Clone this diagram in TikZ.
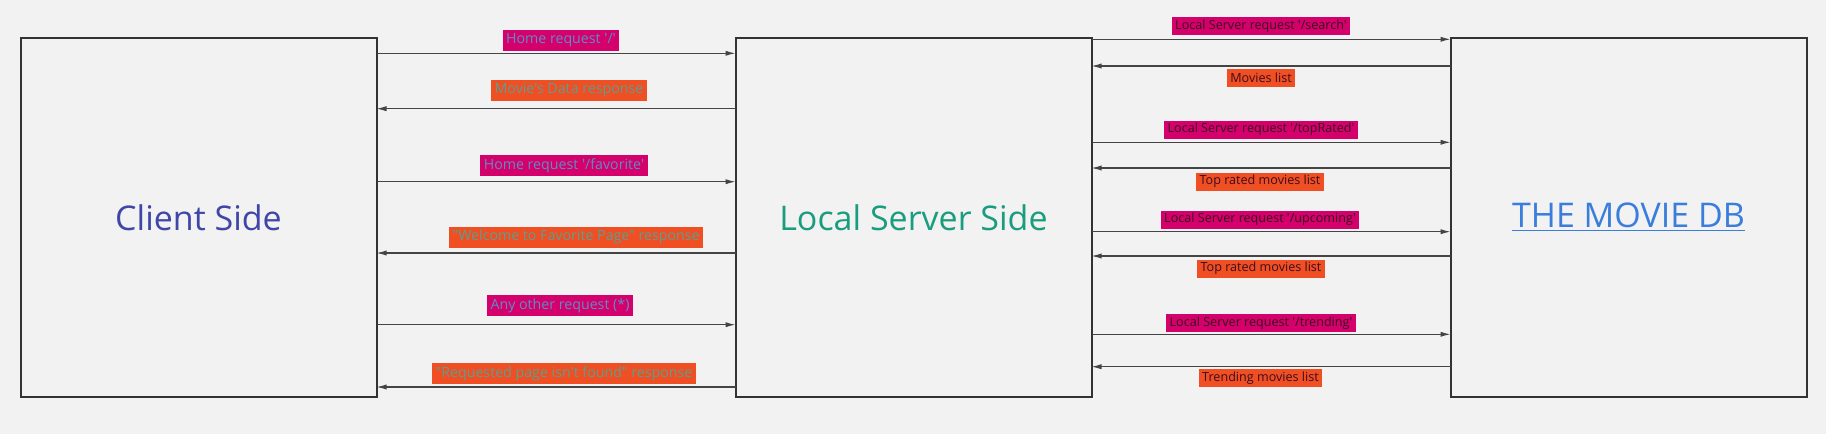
\documentclass[tikz,border=0pt]{standalone}
\usepackage{fontspec}
\newfontfamily\diagfont{Open Sans}
\usepackage{tikz}
\usetikzlibrary{arrows.meta}
\usetikzlibrary{positioning}
\definecolor{bgcol}{HTML}{F2F2F2}
\definecolor{boxcol}{HTML}{333333}
\definecolor{linecol}{HTML}{444444}
\definecolor{reqfill}{HTML}{D4006C}
\definecolor{respfill}{HTML}{F04E23}
\definecolor{reqtext}{HTML}{5E8CC8}
\definecolor{resptext}{HTML}{5E9E8E}
\definecolor{darktext}{HTML}{3A0E1E}
\definecolor{clientcol}{HTML}{4046A8}
\definecolor{servercol}{HTML}{1A9C7F}
\definecolor{dbcol}{HTML}{3B7DDD}
\tikzset{
    side/.style={draw=boxcol, line width=1pt, minimum width=178pt, minimum height=179.5pt,
        inner sep=0pt, outer sep=0pt, font=\diagfont\fontsize{17}{20}\selectfont},
    request/.style={draw=linecol, line width=0.55pt, ->},
    response/.style={draw=linecol, line width=0.55pt, <-},
    reqlabel/.style={fill=reqfill, text=reqtext, inner xsep=1.8pt, inner ysep=0pt, minimum height=10.5pt,
        font=\diagfont\fontsize{7.1}{8.5}\selectfont},
    resplabel/.style={fill=respfill, text=resptext, inner xsep=1.8pt, inner ysep=0pt, minimum height=10.5pt,
        font=\diagfont\fontsize{7.1}{8.5}\selectfont},
    apireq/.style={reqlabel, text=darktext, minimum height=9pt, font=\diagfont\fontsize{6.3}{7.5}\selectfont},
    apiresp/.style={resplabel, text=darktext, minimum height=9pt, font=\diagfont\fontsize{6.3}{7.5}\selectfont},
}

\begin{document}
\begin{tikzpicture}[x=0.5pt, y=-0.5pt, >={Latex[length=5pt,width=2.6pt]},
    font=\diagfont\fontsize{6.3}{7.5}\selectfont]
	\fill[bgcol] (0,0) rectangle (1826,434);
	\useasboundingbox (0,0) rectangle (1826,434);
	% the three sides
	\node[side, text=clientcol] (client) at (198.5,217.5) {Client Side};
	\node[side, text=servercol, right=179.5pt of client] (server) {Local Server Side};
	\node[side, text=dbcol, right=179.5pt of server] (db) {\underline{THE MOVIE DB}};
	% client <-> local server
	\draw[request] (client.east |- 0,53.3) -- (server.west |- 0,53.3);
	\draw[response] (client.east |- 0,108.7) -- (server.west |- 0,108.7);
	\draw[request] (client.east |- 0,181.7) -- (server.west |- 0,181.7);
	\draw[response] (client.east |- 0,253) -- (server.west |- 0,253);
	\draw[request] (client.east |- 0,324.7) -- (server.west |- 0,324.7);
	\draw[response] (client.east |- 0,387) -- (server.west |- 0,387);
	\node[reqlabel] (home) at (561,40) {Home request '/'};
	\node[resplabel] (data) at (569,90) {Movie's Data response};
	\node[reqlabel] (fav) at (564,165.5) {Home request '/favorite'};
	\node[resplabel] (welcome) at (576,237) {"Welcome to Favorite Page" response};
	\node[reqlabel] (other) at (560,305.5) {Any other request (*)};
	\node[resplabel] (notfound) at (564,373.5) {"Requested page isn't found" response};
	% local server <-> movie db
	\draw[request] (server.east |- 0,39.3) -- (db.west |- 0,39.3);
	\draw[response] (server.east |- 0,66) -- (db.west |- 0,66);
	\draw[request] (server.east |- 0,142.3) -- (db.west |- 0,142.3);
	\draw[response] (server.east |- 0,168) -- (db.west |- 0,168);
	\draw[request] (server.east |- 0,231.7) -- (db.west |- 0,231.7);
	\draw[response] (server.east |- 0,256) -- (db.west |- 0,256);
	\draw[request] (server.east |- 0,334.3) -- (db.west |- 0,334.3);
	\draw[response] (server.east |- 0,366.7) -- (db.west |- 0,366.7);
	\node[apireq] (search) at (1261,26) {Local Server request '/search'};
	\node[apiresp] (movies) at (1261,78) {Movies list};
	\node[apireq] (toprated) at (1261,129.5) {Local Server request '/topRated'};
	\node[apiresp] (toplist) at (1260,181.5) {Top rated movies list};
	\node[apireq] (upcoming) at (1260,219.5) {Local Server request '/upcoming'};
	\node[apiresp] (uplist) at (1261,268.5) {Top rated movies list};
	\node[apireq] (trending) at (1261,323) {Local Server request '/trending'};
	\node[apiresp] (trendlist) at (1260.5,378) {Trending movies list};
\end{tikzpicture}
\end{document}
